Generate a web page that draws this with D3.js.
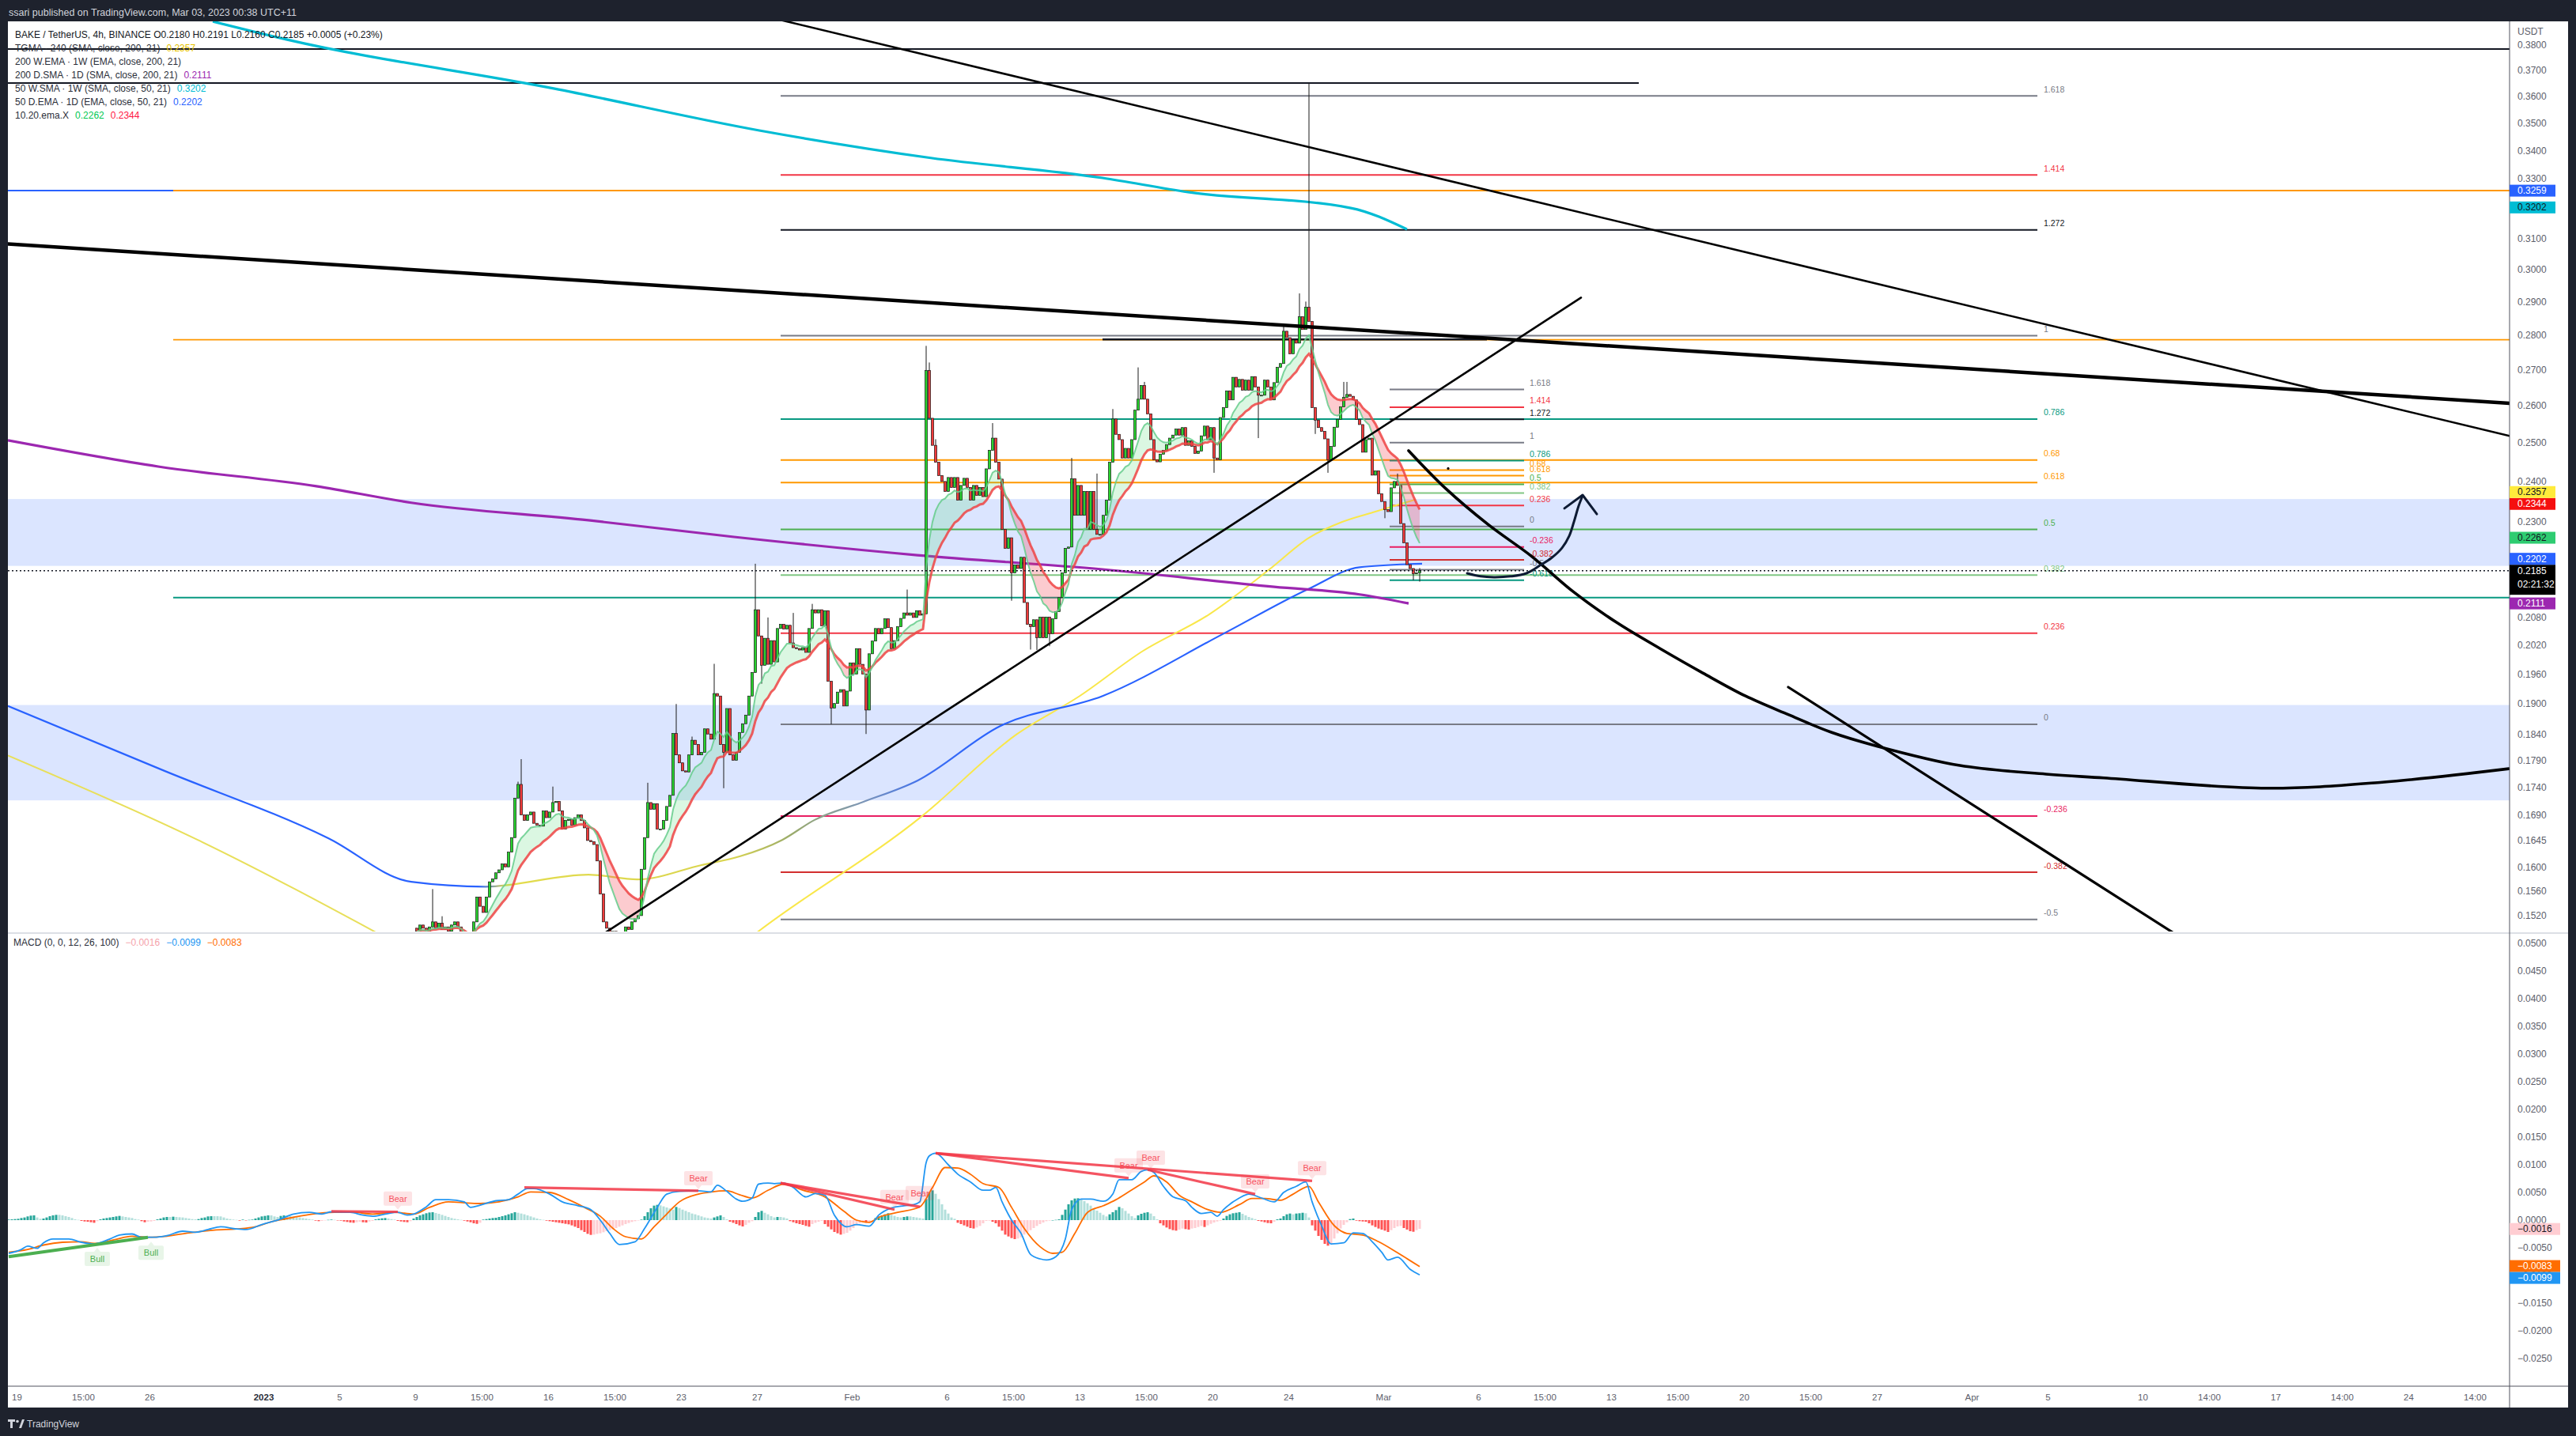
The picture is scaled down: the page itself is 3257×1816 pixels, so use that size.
<!DOCTYPE html>
<html><head><meta charset="utf-8">
<script src="https://cdn.jsdelivr.net/npm/d3@7"></script>
<style>html,body{margin:0;padding:0;background:#1e222d;}svg{display:block;}</style>
</head><body><svg id="c" width="3257" height="1816"></svg>
<script>
// ================= DATA =================
const headerText = "ssari published on TradingView.com, Mar 03, 2023 00:38 UTC+11";
const legendRows = [
  ["BAKE / TetherUS, 4h, BINANCE  O0.2180  H0.2191  L0.2160  C0.2185  +0.0005 (+0.23%)"],
  ["TGMA · 240 (SMA, close, 200, 21)", "0.2357"],
  ["200 W.EMA · 1W (EMA, close, 200, 21)"],
  ["200 D.SMA · 1D (SMA, close, 200, 21)", "0.2111"],
  ["50 W.SMA · 1W (SMA, close, 50, 21)", "0.3202"],
  ["50 D.EMA · 1D (EMA, close, 50, 21)", "0.2202"],
  ["10.20.ema.X", "0.2262", "0.2344"]
];
const macdTitle = ["MACD (0, 0, 12, 26, 100)", "\u22120.0016", "\u22120.0099", "\u22120.0083"];

// 4h candles starting 2023-01-09 00:00, closes (6 per day)
const candleStart = "2023-01-09T00";
const firstOpen = 0.1500;
const closes = [
0.1495,0.1505,0.1500,0.1490,0.1502,0.1510,
0.1500,0.1508,0.1498,0.1502,0.1495,0.1505,
0.1510,0.1502,0.1485,0.1470,0.1460,0.1480,
0.1510,0.1550,0.1535,0.1525,0.1550,0.1575,
0.1580,0.1590,0.1595,0.1605,0.1600,0.1625,
0.1650,0.1720,0.1745,0.1690,0.1680,0.1690,
0.1695,0.1675,0.1672,0.1670,0.1697,0.1685,
0.1695,0.1712,0.1714,0.1697,0.1665,0.1680,
0.1682,0.1672,0.1685,0.1690,0.1680,0.1667,
0.1645,0.1643,0.1638,0.1610,0.1555,0.1510,
0.1500,0.1485,0.1495,0.1480,0.1470,0.1490,
0.1502,0.1498,0.1510,0.1515,0.1520,0.1596,
0.1650,0.1712,0.1700,0.1710,0.1665,0.1665,
0.1680,0.1705,0.1725,0.1841,0.1800,0.1785,
0.1770,0.1768,0.1800,0.1828,0.1820,0.1800,
0.1805,0.1850,0.1840,0.1830,0.1920,0.1915,
0.1820,0.1805,0.1890,0.1800,0.1790,0.1805,
0.1843,0.1860,0.1877,0.1915,0.1963,0.2097,
0.2040,0.1978,0.2035,0.1980,0.2030,0.1985,
0.2056,0.2065,0.2055,0.2063,0.2025,0.2015,
0.2013,0.2010,0.2015,0.2005,0.2056,0.2097,
0.2090,0.2097,0.2062,0.2095,0.1945,0.1891,
0.1900,0.1923,0.1928,0.1895,0.1925,0.1983,
0.1960,0.2013,0.1980,0.1960,0.1887,0.2002,
0.2029,0.2056,0.2045,0.2056,0.2077,0.2058,
0.2013,0.2030,0.2060,0.2078,0.2090,0.2085,
0.2090,0.2080,0.2095,0.2085,0.2088,0.2697,
0.2565,0.2493,0.2449,0.2415,0.2400,0.2375,
0.2410,0.2385,0.2410,0.2353,0.2390,0.2408,
0.2385,0.2353,0.2390,0.2365,0.2385,0.2362,
0.2432,0.2480,0.2512,0.2449,0.2406,0.2282,
0.2237,0.2262,0.2180,0.2198,0.2190,0.2216,
0.2113,0.2065,0.2060,0.2075,0.2036,0.2081,
0.2036,0.2081,0.2045,0.2077,0.2093,0.2124,
0.2180,0.2237,0.2240,0.2407,0.2316,0.2390,
0.2316,0.2375,0.2282,0.2375,0.2282,0.2270,
0.2270,0.2316,0.2353,0.2449,0.2563,0.2522,
0.2508,0.2460,0.2485,0.2460,0.2508,0.2587,
0.2617,0.2655,0.2617,0.2577,0.2508,0.2455,
0.2450,0.2470,0.2480,0.2495,0.2512,0.2520,
0.2536,0.2520,0.2540,0.2493,0.2505,0.2490,
0.2472,0.2478,0.2518,0.2544,0.2508,0.2540,
0.2460,0.2455,0.2567,0.2594,0.2640,0.2615,
0.2678,0.2651,0.2672,0.2642,0.2670,0.2642,
0.2680,0.2651,0.2628,0.2628,0.2670,0.2651,
0.2615,0.2663,0.2706,0.2717,0.2811,0.2792,
0.2745,0.2785,0.2776,0.2854,0.2816,0.2883,
0.2840,0.2594,0.2560,0.2540,0.2530,0.2510,
0.2455,0.2490,0.2541,0.2562,0.2596,0.2622,
0.2630,0.2625,0.2615,0.2562,0.2548,0.2475,
0.2508,0.2512,0.2416,0.2427,0.2369,0.2350,
0.2330,0.2325,0.2384,0.2400,0.2390,0.2296,
0.2250,0.2199,0.2190,0.2178,0.2180,0.2185];
// visible wick extremes [candle index, price]
const wickHighs = [[5,0.1563],[8,0.1519],[32,0.1750],[33,0.1792],[43,0.1741],[73,0.1748],[82,0.1899],[87,0.1835],[94,0.1981],[107,0.2201],[111,0.2080],[119,0.2090],[125,0.2110],[155,0.2142],[161,0.2768],[162,0.2720],[164,0.2509],[182,0.2552],[207,0.2460],[215,0.2420],[220,0.2590],[228,0.2706],[230,0.2665],[274,0.2830],[279,0.2925],[281,0.2900],[282,0.3650],[293,0.2665],[294,0.2665],[310,0.2420],[317,0.2191]];
const wickLows = [[97,0.1738],[109,0.1940],[131,0.1859],[142,0.1840],[188,0.2117],[194,0.2011],[196,0.2010],[200,0.2018],[252,0.2422],[266,0.2512],[284,0.2523],[288,0.2422],[306,0.2309],[315,0.2163],[317,0.2160]];

// moving averages [time, price]
const ma50W = [["2022-12-29T08",0.3894],["2023-01-02T05",0.3821],["2023-01-16T07",0.3629],["2023-01-27T03",0.3472],["2023-02-05T04",0.3373],["2023-02-14T05",0.3303],["2023-02-18T17",0.3254],["2023-02-27T07",0.3200],["2023-03-02T06",0.3129]];
const ma200D = [["2022-12-18T13",0.2506],["2022-12-26T11",0.2438],["2023-01-03T19",0.2388],["2023-01-08T19",0.2347],["2023-01-18T03",0.2304],["2023-01-25T19",0.2264],["2023-02-04T11",0.2221],["2023-02-14T05",0.2188],["2023-02-23T06",0.2148],["2023-02-27T18",0.2131],["2023-03-02T08",0.2111]];
const ema50D = [["2022-12-18T13",0.1895],["2022-12-26T19",0.1770],["2023-01-04T10",0.1649],["2023-01-08T19",0.1575],["2023-01-12T17",0.1567],["2023-01-18T03",0.1587],["2023-01-20T17",0.1579],["2023-01-24T02",0.1603],["2023-01-26T03",0.1618],["2023-01-28T08",0.1646],["2023-01-30T01",0.1681],["2023-02-01T14",0.1713],["2023-02-04T11",0.1752],["2023-02-08T19",0.1855],["2023-02-14T05",0.1915],["2023-02-20T13",0.2044],["2023-02-25T01",0.2143],["2023-02-27T18",0.2193],["2023-03-03T01",0.2201]];
const tgmaA = [["2022-12-18T13",0.1799],["2022-12-28T13",0.1646],["2023-01-07T23",0.1477]];
const tgmaB = [["2023-01-26T07",0.1477],["2023-01-27T03",0.1496],["2023-02-04T17",0.1688],["2023-02-09T16",0.1839],["2023-02-13T00",0.1915],["2023-02-16T08",0.2008],["2023-02-19T20",0.2087],["2023-02-23T00",0.2188],["2023-02-25T02",0.2262],["2023-02-26T20",0.2300],["2023-02-28T14",0.2325],["2023-03-02T17",0.2355]];

// fib retracements
const bigFibLevels = ["1.618","1.414","1.272","1","0.786","0.68","0.618","0.5","0.382","0.236","0","-0.236","-0.382","-0.5"];
const bigFibPrices = [0.3601,0.3313,0.3127,0.2798,0.2563,0.2455,0.2397,0.2282,0.2175,0.2046,0.1859,0.1688,0.1591,0.1514];
const bigFibSpan = ["2023-01-28T06","2023-04-04T11"];
const smallFibLevels = ["1.618","1.414","1.272","1","0.786","0.68","0.618","0.5","0.382","0.236","0","-0.236","-0.382","-0.5","-0.618"];
const smallFibPrices = [0.2644,0.2595,0.2562,0.2500,0.2453,0.2429,0.2415,0.2393,0.2371,0.2340,0.2289,0.2240,0.2210,0.2187,0.2163];
const smallFibSpan = ["2023-03-01T08","2023-03-08T10"];

// zones [top, bottom]
const zones = [[0.2356,0.2196],[0.1897,0.1716]];
// horizontal lines [price, start time|null, end time|null]
const hLines = [[0.3783,null,null],[0.3650,null,"2023-03-14T11"],[0.3259,null,"2022-12-27T06"],[0.3259,"2022-12-27T06",null],[0.2786,"2022-12-27T06",null],[0.2124,"2022-12-27T06",null],[0.2787,"2023-02-14T05","2023-03-06T11"]];
// trend lines [t1,p1,t2,p2,extendLeft,extendRight]
const trendLines = [
  ["2023-02-06T18",0.3726,"2023-04-07T23",0.2790,true,true],
  ["2023-01-27T03",0.2930,"2023-04-29T07",0.2606,true,true],
  ["2023-01-27T03",0.1659,"2023-03-11T10",0.2912,true,false],
  ["2023-03-22T08",0.1933,"2023-04-07T23",0.1564,false,true]];
const arcCurve = [["2023-03-02T08",0.2479],["2023-03-04T07",0.2382],["2023-03-06T13",0.2293],["2023-03-08T19",0.2219],["2023-03-11T01",0.2136],["2023-03-13T08",0.2068],["2023-03-15T14",0.2013],["2023-03-17T20",0.1962],["2023-03-20T02",0.1915],["2023-03-22T08",0.1878],["2023-03-24T15",0.1843],["2023-03-26T21",0.1818],["2023-03-31T09",0.1780],["2023-04-04T22",0.1764],["2023-04-07T23",0.1757],["2023-04-16T13",0.1738],["2023-04-22T15",0.1749],["2023-04-29T07",0.1774]];
const arrowCurve = [["2023-03-05T10",0.2179],["2023-03-06T03",0.2172],["2023-03-06T20",0.2170],["2023-03-07T17",0.2172],["2023-03-08T13",0.2179],["2023-03-09T06",0.2197],["2023-03-09T21",0.2215],["2023-03-10T10",0.2238],["2023-03-10T19",0.2266],["2023-03-11T01",0.2300],["2023-03-11T07",0.2339],["2023-03-11T12",0.2364]];
const arrowHead = [["2023-03-10T13",0.2333],["2023-03-11T12",0.2366],["2023-03-12T06",0.2319]];
const dotMark = ["2023-03-04T10",0.2433];
const lastPrice = 0.2185;
const countdown = "02:21:32";

// axis
const priceTicks = [0.38,0.37,0.36,0.35,0.34,0.33,0.31,0.30,0.29,0.28,0.27,0.26,0.25,0.24,0.23,0.214,0.208,0.202,0.196,0.19,0.184,0.179,0.174,0.169,0.1645,0.16,0.156,0.152];
const priceAxisLabels = [0.3259,0.3202,0.2357,0.2344,0.2262,0.2202,0.2185,0.2111];
const macdTicks = [0.05,0.045,0.04,0.035,0.03,0.025,0.02,0.015,0.01,0.005,0,-0.005,-0.01,-0.015,-0.02,-0.025];
const macdAxisLabels = [-0.0016,-0.0083,-0.0099];
const xTicks = [["2022-12-19T00","19"],["2022-12-22T12","15:00"],["2022-12-26T00","26"],["2023-01-01T00","2023"],["2023-01-05T00","5"],["2023-01-09T00","9"],["2023-01-12T12","15:00"],["2023-01-16T00","16"],["2023-01-19T12","15:00"],["2023-01-23T00","23"],["2023-01-27T00","27"],["2023-02-01T00","Feb"],["2023-02-06T00","6"],["2023-02-09T12","15:00"],["2023-02-13T00","13"],["2023-02-16T12","15:00"],["2023-02-20T00","20"],["2023-02-24T00","24"],["2023-03-01T00","Mar"],["2023-03-06T00","6"],["2023-03-09T12","15:00"],["2023-03-13T00","13"],["2023-03-16T12","15:00"],["2023-03-20T00","20"],["2023-03-23T12","15:00"],["2023-03-27T00","27"],["2023-04-01T00","Apr"],["2023-04-05T00","5"],["2023-04-10T00","10"],["2023-04-13T12","14:00"],["2023-04-17T00","17"],["2023-04-20T12","14:00"],["2023-04-24T00","24"],["2023-04-27T12","14:00"]];

// MACD: bars every 4h from 2022-12-18 12:00
const macdStart = "2022-12-18T12";
const HIST_UNIT = 1e-4;
const macdHist = [
1,1.4,1.9, 2.4,3.8,4.8,6.7,8.1,8.6, 4.8,2.4, 2.9,4.8, 7.1,8.6,9.5,9.5,8.6, 7.1,5.7,3.8, 1.4,0.5,
-1.4,-2.4,-2.9,-3.8,-4.8, -1.9, 1.4,2.9,3.8,4.8,5.7,6.7,7.6, 6.7,5.7,4.8,3.8, 1.9,1, -1.9,-3.8,-2.9, -2.4,-1.4,
1.4,2.9,4.8,5.7, 5.7,6.2,5.7,5.2,4.8, 3.8,2.9,1.9,1.4, 1.9,3.8,4.8, 6.7,7.1,7.1,7.1,6.7, 4.8,2.9,1.9,1,
0.5,-1,1,-0.5,0.5,1, 2.9,4.8,6.7,7.6,8.6,8.6, 6.7,5.7,7.6, 8.6,8.6,7.6,6.7,5.7,4.8, 3.8,2.9,1.9,1,-1,-1.9,
-1.4,-0.5,0.5,1,0.5,-0.5,-1, -2.4,-3.3,-4.3,-4.8,-3.8,-2.9,-3.8,-4.3,-2.4,-1.4, 1.4,2.4,3.3,3.8,2.9,1.9,1,
-1.4,-2.4,-3.3,-3.8,-1.9, 2.9,5.7,8.6,10.5,12.4, 13.8,14.3,12.9, 11.4,9.5,7.6,5.7,3.8, 2.4,1.4,0.5,-1,
-2.4,-3.8,-5.7,-6.7,-4.8, 1,1.9,2.9,3.8,4.3, 5.7,7.1,8.6,10.5,12.4,14.3, 13.3,11.9,10.5,8.6,6.7,4.8,2.9,
1.4,0.5,-1,-1.9, -2.9,-3.8,-4.8,-5.7,-6.7,-7.6, -9.5,-11.9,-14.3,-18.1,-21.4,-24.8,-26.7, -26.2,-24.8,-23.8,-21.9,-20,
-18.1,-16.2,-14.3,-11.9,-9.5,-7.1,-5.2,-3.3,-1.9, -0.5,1, 7.1,14.3,21.4,26.2, 27.6,26.7,24.8,22.9,
21,19,23.8,21.9,19,16.7, 14.3,11.9,10.5,8.6,6.7,4.8,3.8,2.9,
4.8,6.7,8.6,5.7, 1.4, -2.9,-4.8,-7.1,-9.5,-11.4,-8.6, -4.8,-1.9, 5.7,14.3,16.7,13.3,10.5, 7.1,4.8,5.7,5.7,4.8,2.9,
-1.9,-3.8,-5.7,-7.1,-8.6,-10.5,-11.9, -7.1,-4.8,-2.9,-1.4, -7.1,-11.9,-16.7,-21.4,-23.8,-26.2,-24.8,-22.9,
-19,-14.3,-9.5,-5.7,-3.8, -4.8,-2.9,-1, 3.8,6.7,8.6,10.5,12.4, 9.5,7.6,5.7,4.8, 5.7,6.7,6.7, 5.7,4.8,3.8,2.9,
38,50,53.8, 47.6,38,28.6,19,11.9, 4.8,2.4, -4.8,-7.1,-9.5,-11.9, -14.3,-15.2,-13.3,-10.5,-5.7, -1.4,-1,-2.9,
-5.7,-11.9,-19,-26.2,-29.5, -32.4,-34.3,-33.3,-31,-26.2,-21.4,-18.1, -14.3,-10.5,-7.1,-4.3,-1.9, -1,0,0.5,1.4,
9.5,19,28.6,35.7,39, 39.5,37.1,34.3,30.5, 26.2,21.4,17.1,13.3,9.5,6.7, 10.5,14.3,18.1,23.8, 21.4,16.7,11.9,7.1,3.8,
8.6,11.4,13.3,14.3,11.9,7.1, 1.4, -5.7,-9.5,-13.3,-16.2,-18.1,-19,-17.1,-15.2, -16.2,-17.1,-15.2,-14.3,-12.4,-10.5,
-12.4,-9.5,-6.7,-4.3,-2.4,-1, 2.9,7.6,10.5,12.4,13.3,14.3, 11.4,8.6,5.7,3.8,1.9, -1.4,-2.4,-3.8,-5.2,-5.7,-2.9,
1.4,2.9, 7.1,10.5,11.9,10.5,11.9,12.4,13.3,12.4, 4.8, -9.5,-19,-28.6,-35.7,-42.9,-46.2,-42.9, -33.3,-23.8,-15.2,-8.6,-3.8,
1.9,2.9, -1,-1.9,-2.4,-2.9, -5.7,-9.5,-12.4,-15.2,-17.1,-19,-21.4, -18.1,-14.3,-11.4,-10.5, -14.3,-17.1,-20,-21,-18.1,-15.7];
// [bar index, value]
const macdLine = [[0,-0.0060],[4,-0.0053],[6,-0.0047],[9,-0.0051],[11,-0.0041],[14,-0.0034],[19,-0.0034],[23,-0.0040],[27,-0.0043],[32,-0.0034],[35,-0.0027],[39,-0.0025],[42,-0.0031],[46,-0.0031],[50,-0.0028],[55,-0.0020],[59,-0.0022],[63,-0.0017],[67,-0.0012],[72,-0.0016],[75,-0.0017],[80,-0.0008],[86,0.0002],[90,0.0011],[95,0.0014],[99,0.0011],[102,0.0015],[108,0.0014],[112,0.0009],[115,0.0007],[119,0.0011],[123,0.0014],[126,0.0009],[128,0.0011],[132,0.0024],[135,0.0037],[139,0.0037],[144,0.0033],[146,0.0023],[149,0.0027],[154,0.0035],[158,0.0037],[161,0.0047],[164,0.0057],[166,0.0057],[171,0.0047],[175,0.0033],[180,0.0026],[184,0.0019],[187,0.0000],[190,-0.0024],[193,-0.0044],[198,-0.0039],[201,-0.0015],[205,0.0023],[208,0.0047],[212,0.0052],[218,0.0053],[222,0.0051],[224,0.0063],[227,0.0052],[230,0.0038],[232,0.0034],[235,0.0040],[237,0.0065],[240,0.0067],[242,0.0066],[245,0.0067],[248,0.0059],[252,0.0042],[255,0.0048],[258,0.0045],[261,0.0009],[265,-0.0012],[268,-0.0008],[272,-0.0011],[275,0.0009],[279,0.0022],[283,0.0026],[286,0.0028],[288,0.0033],[290,0.0104],[291,0.0116],[293,0.0121],[297,0.0100],[300,0.0083],[304,0.0069],[308,0.0054],[310,0.0054],[312,0.0059],[314,0.0033],[317,0.0000],[320,-0.0024],[323,-0.0062],[326,-0.0070],[328,-0.0072],[331,-0.0066],[334,-0.0034],[336,0.0019],[339,0.0038],[342,0.0038],[346,0.0034],[349,0.0047],[351,0.0073],[355,0.0073],[358,0.0088],[360,0.0091],[362,0.0086],[365,0.0061],[368,0.0042],[372,0.0035],[374,0.0023],[377,0.0012],[380,0.0014],[382,0.0007],[384,0.0019],[389,0.0040],[392,0.0047],[396,0.0040],[400,0.0033],[403,0.0050],[407,0.0061],[410,0.0069],[412,0.0033],[415,-0.0010],[418,-0.0043],[422,-0.0041],[425,-0.0023],[428,-0.0024],[431,-0.0039],[434,-0.0058],[436,-0.0072],[439,-0.0067],[443,-0.0089],[446,-0.0099]];
const signalLine = [[0,-0.0058],[6,-0.0053],[11,-0.0045],[17,-0.0040],[23,-0.0039],[27,-0.0042],[33,-0.0036],[39,-0.0029],[44,-0.0031],[50,-0.0029],[57,-0.0023],[65,-0.0018],[72,-0.0016],[78,-0.0012],[83,-0.0003],[90,0.0005],[96,0.0011],[103,0.0014],[109,0.0014],[115,0.0011],[122,0.0014],[128,0.0011],[133,0.0023],[139,0.0033],[145,0.0031],[149,0.0030],[155,0.0033],[161,0.0042],[165,0.0051],[171,0.0050],[177,0.0037],[182,0.0023],[187,0.0007],[191,-0.0015],[195,-0.0030],[200,-0.0034],[204,-0.0012],[208,0.0011],[212,0.0033],[218,0.0047],[222,0.0051],[227,0.0053],[231,0.0046],[235,0.0040],[240,0.0054],[245,0.0065],[251,0.0054],[258,0.0042],[264,0.0016],[268,0.0000],[272,-0.0004],[275,0.0005],[281,0.0014],[288,0.0024],[292,0.0059],[296,0.0095],[300,0.0094],[304,0.0083],[308,0.0066],[313,0.0059],[317,0.0023],[321,-0.0015],[326,-0.0048],[330,-0.0060],[333,-0.0058],[337,-0.0024],[341,0.0014],[346,0.0026],[350,0.0037],[354,0.0051],[359,0.0069],[362,0.0080],[366,0.0069],[370,0.0045],[374,0.0033],[379,0.0019],[383,0.0014],[389,0.0028],[393,0.0039],[397,0.0039],[402,0.0036],[406,0.0047],[411,0.0061],[414,0.0033],[419,-0.0010],[423,-0.0024],[428,-0.0027],[433,-0.0039],[439,-0.0059],[446,-0.0084]];
const bullLines = [[0,-0.0066,44,-0.0031]];
const bearLines = [[102,0.0016,123,0.0015],[163,0.0059,218,0.0053],[244,0.0067,280,0.0019],[244,0.0067,288,0.0024],[293,0.0121,354,0.0076],[293,0.0121,412,0.0071],[360,0.0091,394,0.0047]];
const bullMarks = [[28,-0.0047],[45,-0.0036]];
const bearMarks = [[123,0.0016],[218,0.0053],[280,0.0019],[288,0.0026],[354,0.0076],[361,0.0090],[394,0.0047],[412,0.0071]];

// ================= STYLE / LAYOUT =================
const FONT = "'Liberation Sans', Arial, Helvetica, sans-serif";
const X0 = 10, X1 = 3173, XR = 3247, PT = 27, PB = 1178, MT = 1182, MB = 1753, BOT = 1780;
const H4 = 4 * 3600e3;
const T = s => new Date(s + ":00Z");
const fibColor = {"1.618":"#787b86","1.414":"#f23645","1.272":"#131722","1":"#787b86","0.786":"#089981","0.68":"#ff9800","0.618":"#ff9800","0.5":"#4caf50","0.382":"#81c784","0.236":"#f23645","0":"#787b86","-0.236":"#e91e63","-0.382":"#d32f2f","-0.5":"#787b86","-0.618":"#089981"};
const hLineStyle = [["#131722",2],["#131722",2],["#2962ff",2],["#ff9800",2],["#ff9800",1.6],["#089981",2],["#131722",2.5]];
const trendStyle = [2.6, 4.5, 2.6, 3.2];
const axisLabelStyle = [["#2962ff","#fff"],["#00bcd4","#131722"],["#ffeb3b","#131722"],["#f50f0f","#fff"],["#2ecc71","#131722"],["#2962ff","#fff"],["#000","#fff"],["#9c27b0","#fff"]];
const macdLabelStyle = [["#ffcdd2","#131722"],["#ff6d00","#fff"],["#2196f3","#fff"]];

const svg = d3.select("#c");
const defs = svg.append("defs");
defs.append("clipPath").attr("id","cp").append("rect").attr("x",X0).attr("y",PT).attr("width",X1-X0).attr("height",PB-PT);
defs.append("clipPath").attr("id","cm").append("rect").attr("x",X0).attr("y",MT).attr("width",X1-X0).attr("height",MB-MT);

const x = d3.scaleUtc().domain([new Date(Date.UTC(2023,1,1)), new Date(Date.UTC(2023,2,1))]).range([1077,1749]);
const y = d3.scaleLog().domain([0.38,0.152]).range([56.5,1157.9]);
const ym = d3.scaleLinear().domain([0.05,-0.025]).range([1193,1718]);

svg.append("rect").attr("width",3257).attr("height",1816).attr("fill","#1e222d");
svg.append("rect").attr("x",X0).attr("y",PT).attr("width",XR-X0).attr("height",BOT-PT).attr("fill","#ffffff");

svg.append("text").attr("x",11).attr("y",20).attr("font-family",FONT).attr("font-size",12.5).attr("fill","#d1d4dc").text(headerText);

// ---------- price pane ----------
const gP = svg.append("g").attr("clip-path","url(#cp)");
zones.forEach(([a,b]) => gP.append("rect").attr("x",X0).attr("width",X1-X0).attr("y",y(a)).attr("height",y(b)-y(a)).attr("fill","rgba(41,98,255,0.17)"));

function drawFib(levels, prices, span, lx){
  const xa = x(T(span[0])), xb = x(T(span[1]));
  levels.forEach((lv,i) => {
    const yy = y(prices[i]);
    gP.append("line").attr("x1",xa).attr("x2",xb).attr("y1",yy).attr("y2",yy).attr("stroke",fibColor[lv]).attr("stroke-width",2);
    gP.append("text").attr("x",lx).attr("y",yy-4.5).attr("font-family",FONT).attr("font-size",10.5).attr("fill",fibColor[lv]).text(lv);
  });
}
drawFib(bigFibLevels, bigFibPrices, bigFibSpan, x(T(bigFibSpan[1]))+8);
drawFib(smallFibLevels, smallFibPrices, smallFibSpan, x(T(smallFibSpan[1]))+7);

hLines.forEach(([p,a,b],i) => {
  gP.append("line").attr("x1",a?x(T(a)):X0).attr("x2",b?x(T(b)):X1).attr("y1",y(p)).attr("y2",y(p))
    .attr("stroke",hLineStyle[i][0]).attr("stroke-width",hLineStyle[i][1]);
});

const lineGen = d3.line().x(d=>x(T(d[0]))).y(d=>y(d[1])).curve(d3.curveMonotoneX);
// 50 D.EMA gradient
const grad = defs.append("linearGradient").attr("id","gEma").attr("gradientUnits","userSpaceOnUse").attr("x1",X0).attr("x2",1800).attr("y1",0).attr("y2",0);
[[605,"#2962ff"],[640,"#e3dc4c"],[925,"#d9d44f"],[1000,"#9aab6a"],[1090,"#7d96b6"],[1170,"#3d6ef0"],[1260,"#2962ff"]].forEach(([xx,c]) => grad.append("stop").attr("offset",((xx-X0)/(1800-X0)).toFixed(4)).attr("stop-color",c));
gP.append("path").attr("d",lineGen(tgmaA)).attr("fill","none").attr("stroke","#e8df5a").attr("stroke-width",2);
gP.append("path").attr("d",lineGen(tgmaB)).attr("fill","none").attr("stroke","#f9e74a").attr("stroke-width",2);
gP.append("path").attr("d",lineGen(ema50D)).attr("fill","none").attr("stroke","url(#gEma)").attr("stroke-width",2.2);
gP.append("path").attr("d",lineGen(ma200D)).attr("fill","none").attr("stroke","#9c27b0").attr("stroke-width",3.2);
gP.append("path").attr("d",lineGen(ma50W)).attr("fill","none").attr("stroke","#00bcd4").attr("stroke-width",3.2);

// candles
const t0 = T(candleStart).getTime();
const candles = closes.map((c,i) => ({i, t:new Date(t0 + i*H4 + H4/2), o: i? closes[i-1] : firstOpen, c}));
candles.forEach(d => { d.h = Math.max(d.o,d.c); d.l = Math.min(d.o,d.c); });
wickHighs.forEach(([i,p]) => { candles[i].h = Math.max(candles[i].h,p); });
wickLows.forEach(([i,p]) => { candles[i].l = Math.min(candles[i].l,p); });
function ema(arr,n){ const k=2/(n+1); let e=arr[0]; return arr.map(v => (e = v*k + e*(1-k))); }
const e10 = ema(closes,10), e20 = ema(closes,20);
// ribbon fill
for (let i=0;i<candles.length-1;i++){
  const xa = x(candles[i].t), xb = x(candles[i+1].t);
  const up = (e10[i]+e10[i+1]) >= (e20[i]+e20[i+1]);
  gP.append("path").attr("d",`M${xa},${y(e10[i])}L${xb},${y(e10[i+1])}L${xb},${y(e20[i+1])}L${xa},${y(e20[i])}Z`)
    .attr("fill", up ? "rgba(76,214,110,0.20)" : "rgba(242,54,69,0.26)").attr("stroke","none");
}
const gC = gP.append("g");
candles.forEach(d => {
  const cx = x(d.t);
  gC.append("line").attr("x1",cx).attr("x2",cx).attr("y1",y(d.h)).attr("y2",y(d.l)).attr("stroke","#1a1a1a").attr("stroke-width",1);
  const top = y(Math.max(d.o,d.c)), bot = y(Math.min(d.o,d.c));
  gC.append("rect").attr("x",cx-1.6).attr("width",3.2).attr("y",top).attr("height",Math.max(1,bot-top))
    .attr("fill", d.c>=d.o ? "#28d22e" : "#f03a3a").attr("stroke","#1a1a1a").attr("stroke-width",0.7);
});
const ribLine = arr => d3.line().x((v,i)=>x(candles[i].t)).y(v=>y(v))(arr);
gP.append("path").attr("d",ribLine(e20)).attr("fill","none").attr("stroke","rgba(239,68,68,0.85)").attr("stroke-width",3);
gP.append("path").attr("d",ribLine(e10)).attr("fill","none").attr("stroke","rgba(102,205,140,0.85)").attr("stroke-width",2);

// trend lines
trendLines.forEach(([ta,pa,tb,pb,el,er],k) => {
  const xa = x(T(ta)), ya = y(pa), xb = x(T(tb)), yb = y(pb);
  const m = (yb-ya)/(xb-xa);
  const xs = el ? X0 : xa, xe = er ? X1 : xb;
  gP.append("line").attr("x1",xs).attr("y1",ya+m*(xs-xa)).attr("x2",xe).attr("y2",ya+m*(xe-xa))
    .attr("stroke","#000").attr("stroke-width",trendStyle[k]).attr("stroke-linecap","round");
});
const curveGen = d3.line().x(d=>x(T(d[0]))).y(d=>y(d[1])).curve(d3.curveCatmullRom.alpha(0.5));
gP.append("path").attr("d",curveGen(arcCurve)).attr("fill","none").attr("stroke","#000").attr("stroke-width",3.6).attr("stroke-linecap","round");
gP.append("path").attr("d",curveGen(arrowCurve)).attr("fill","none").attr("stroke","#0d1a33").attr("stroke-width",3).attr("stroke-linecap","round");
gP.append("path").attr("d",d3.line().x(d=>x(T(d[0]))).y(d=>y(d[1]))(arrowHead)).attr("fill","none").attr("stroke","#0d1a33").attr("stroke-width",3).attr("stroke-linecap","round").attr("stroke-linejoin","round");
gP.append("circle").attr("cx",x(T(dotMark[0]))).attr("cy",y(dotMark[1])).attr("r",1.6).attr("fill","#000");

// last price dotted line
gP.append("line").attr("x1",X0).attr("x2",X1).attr("y1",y(lastPrice)).attr("y2",y(lastPrice)).attr("stroke","#131722").attr("stroke-width",1.6).attr("stroke-dasharray","2,3");

// legend
const legendColors = [[],["#e6c200"],[],["#9c27b0"],["#00bcd4"],["#2962ff"],["#00c853","#ff1744"]];
legendRows.forEach((row,r) => {
  const t = svg.append("text").attr("x",19).attr("y",47.5+r*17).attr("font-family",FONT).attr("font-size",12).attr("fill", r===0 ? "#131722" : "#2a2e39");
  t.append("tspan").text(row[0]);
  row.slice(1).forEach((v,j) => t.append("tspan").attr("dx",8).attr("fill",legendColors[r][j]).text(v));
});

// ---------- MACD pane ----------
const gM = svg.append("g").attr("clip-path","url(#cm)");
const mt0 = T(macdStart).getTime();
const bx = b => x(new Date(mt0 + b*H4 + H4/2));
macdHist.forEach((h,b) => {
  const v = h*HIST_UNIT, pv = b ? macdHist[b-1]*HIST_UNIT : 0;
  const col = v >= 0 ? (pv < v ? "#26a69a" : "#b2dfdb") : (pv < v ? "#ffcdd2" : "#ff5252");
  const ya = ym(Math.max(0,v)), yb = ym(Math.min(0,v));
  gM.append("rect").attr("x",bx(b)-1.5).attr("width",3).attr("y",ya).attr("height",Math.max(0.5,yb-ya)).attr("fill",col);
});
const mLine = d3.line().x(d=>bx(d[0])).y(d=>ym(d[1])).curve(d3.curveMonotoneX);
gM.append("path").attr("d",mLine(signalLine)).attr("fill","none").attr("stroke","#ff6d00").attr("stroke-width",1.8);
gM.append("path").attr("d",mLine(macdLine)).attr("fill","none").attr("stroke","#2196f3").attr("stroke-width",1.8);
bullLines.forEach(([a,va,b,vb]) => gM.append("line").attr("x1",bx(a)).attr("y1",ym(va)).attr("x2",bx(b)).attr("y2",ym(vb)).attr("stroke","#4caf50").attr("stroke-width",4));
bearLines.forEach(([a,va,b,vb]) => gM.append("line").attr("x1",bx(a)).attr("y1",ym(va)).attr("x2",bx(b)).attr("y2",ym(vb)).attr("stroke","rgba(242,54,69,0.85)").attr("stroke-width",3.2));
function mark(b,v,txt,bear){
  const cx = bx(b), ty = ym(v), w = bear ? 36 : 32, h = 18;
  const by = bear ? ty-7-h : ty+7;
  const g = gM.append("g");
  g.append("rect").attr("x",cx-w/2).attr("y",by).attr("width",w).attr("height",h).attr("rx",2).attr("fill", bear ? "rgba(242,54,69,0.14)" : "rgba(76,175,80,0.13)");
  const tri = bear ? `M${cx-4},${ty-7}L${cx+4},${ty-7}L${cx},${ty-2}Z` : `M${cx-4},${ty+7}L${cx+4},${ty+7}L${cx},${ty+2}Z`;
  g.append("path").attr("d",tri).attr("fill", bear ? "rgba(242,54,69,0.14)" : "rgba(76,175,80,0.13)");
  g.append("text").attr("x",cx).attr("y",by+13).attr("text-anchor","middle").attr("font-family",FONT).attr("font-size",11).attr("fill", bear ? "#f7525f" : "#4caf50").text(txt);
}
bullMarks.forEach(([b,v]) => mark(b,v,"Bull",false));
bearMarks.forEach(([b,v]) => mark(b,v,"Bear",true));
const mtT = svg.append("text").attr("x",17).attr("y",1196).attr("font-family",FONT).attr("font-size",12).attr("fill","#2a2e39");
mtT.append("tspan").text(macdTitle[0]);
[["#f5a3ab"],["#2196f3"],["#ff6d00"]].forEach((c,j) => mtT.append("tspan").attr("dx",8).attr("fill",c[0]).text(macdTitle[j+1]));

// ---------- frames ----------
svg.append("line").attr("x1",X0).attr("x2",XR).attr("y1",1180).attr("y2",1180).attr("stroke","#d1d4dc").attr("stroke-width",1.5);
svg.append("line").attr("x1",X0).attr("x2",XR).attr("y1",MB).attr("y2",MB).attr("stroke","#50535e").attr("stroke-width",1);
svg.append("line").attr("x1",X1).attr("x2",X1).attr("y1",PT).attr("y2",BOT).attr("stroke","#50535e").attr("stroke-width",1);

// axes
const fmt4 = v => (v<0 ? "\u2212" : "") + Math.abs(v).toFixed(4);
const gPA = svg.append("g").attr("transform",`translate(${X1},0)`).call(d3.axisRight(y).tickValues(priceTicks).tickFormat(d3.format(".4f")).tickSize(0).tickPadding(10));
const gMA = svg.append("g").attr("transform",`translate(${X1},0)`).call(d3.axisRight(ym).tickValues(macdTicks).tickFormat(fmt4).tickSize(0).tickPadding(10));
const gXA = svg.append("g").attr("transform",`translate(0,${MB})`).call(d3.axisBottom(x).tickValues(xTicks.map(d=>T(d[0]))).tickFormat((d,i)=>xTicks[i][1]).tickSize(0).tickPadding(10));
[gPA,gMA,gXA].forEach(g => { g.select(".domain").remove(); g.selectAll("text").attr("font-family",FONT).attr("font-size",12).attr("fill","#5d606b"); });
gXA.selectAll("text").attr("font-size",11.5).attr("font-weight",(d,i)=> xTicks[i][1]==="2023" ? "bold" : null).attr("fill",(d,i)=> xTicks[i][1]==="2023" ? "#2a2e39" : "#5d606b");
svg.append("text").attr("x",X1+10).attr("y",44).attr("font-family",FONT).attr("font-size",12).attr("fill","#5d606b").text("USDT");

// axis value labels with overlap resolution
function axisLabels(vals, styles, scale, dir, extra){
  const items = vals.map((v,i) => {
    const c = scale(v);
    const two = extra && extra.index === i;
    return {v, i, c, top: c-7.5, h: two ? 38 : 15};
  });
  if (dir === "up") {
    items.sort((a,b)=>b.c-a.c);
    for (let k=1;k<items.length;k++){ const lower = items[k-1], cur = items[k]; if (cur.top + cur.h > lower.top) cur.top = lower.top - cur.h; }
  } else {
    items.sort((a,b)=>a.c-b.c);
    for (let k=1;k<items.length;k++){ const upper = items[k-1], cur = items[k]; if (cur.top < upper.top + upper.h) cur.top = upper.top + upper.h; }
  }
  items.forEach(it => {
    const [bg,fg] = styles[it.i];
    const w = it.v < 0 ? 64 : 58;
    svg.append("rect").attr("x",X1).attr("y",it.top).attr("width",w).attr("height",it.h).attr("fill",bg);
    svg.append("text").attr("x",X1+10).attr("y",it.top+11.5).attr("font-family",FONT).attr("font-size",12).attr("fill",fg).text(fmt4(it.v));
    if (it.h > 20) svg.append("text").attr("x",X1+10).attr("y",it.top+29).attr("font-family",FONT).attr("font-size",12).attr("fill",fg).text(extra.text);
  });
}
axisLabels(priceAxisLabels, axisLabelStyle, y, "up", {index: priceAxisLabels.indexOf(lastPrice), text: countdown});
axisLabels(macdAxisLabels, macdLabelStyle, ym, "down", null);

// footer logo
svg.append("path").attr("d","M10,1795h9v3h-3v8h-3v-8h-3z").attr("fill","#d1d4dc");
svg.append("circle").attr("cx",22).attr("cy",1797.5).attr("r",1.8).attr("fill","#d1d4dc");
svg.append("path").attr("d","M24,1806l4,-11h3l-4,11z").attr("fill","#d1d4dc");
svg.append("text").attr("x",34).attr("y",1805).attr("font-family",FONT).attr("font-size",12).attr("fill","#d1d4dc").text("TradingView");
</script>
</body></html>
